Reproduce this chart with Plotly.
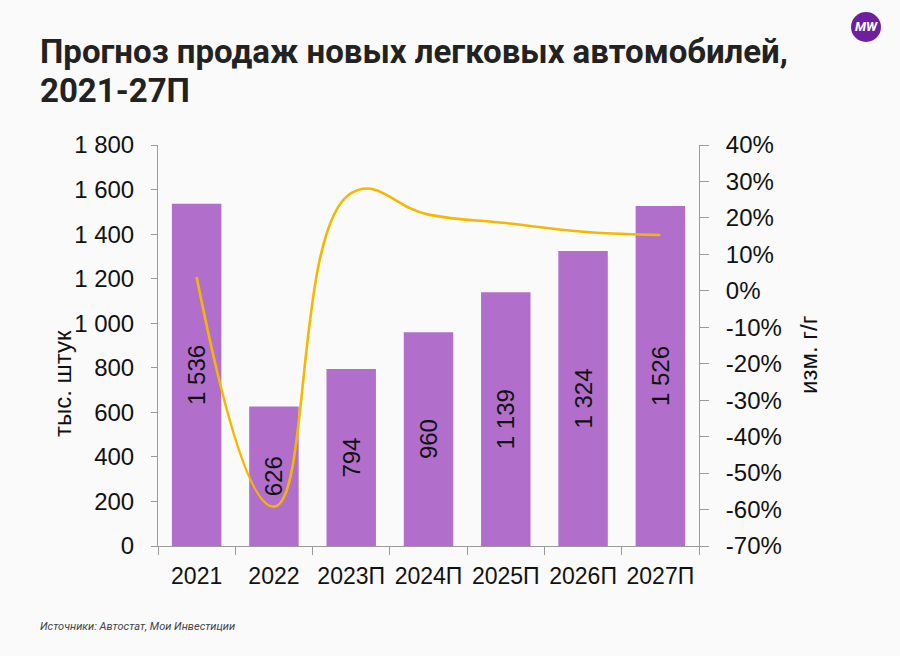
import plotly.graph_objects as go

categories = ["2021", "2022", "2023П", "2024П", "2025П", "2026П", "2027П"]
sales = [1536, 626, 794, 960, 1139, 1324, 1526]
yoy_pct = [3.8, -59.2, 26.8, 20.9, 18.6, 16.2, 15.3]

left_ticks = list(range(0, 1801, 200))
right_ticks = list(range(-70, 41, 10))
right_labels = [f"{v}%" for v in right_ticks]

BAR = "#B16FCB"
LINE = "#F4B800"
BG = "#FAFAFA"
AX = "#9A9A9A"
TICKFONT = dict(family="Liberation Sans, Arial", size=24, color="#111111")

L, R, T, B = 158, 699, 145, 546
PW, PH = R - L, B - T


def px(x):
    return (x - L) / PW


def py(y):
    return (B - y) / PH


fig = go.Figure()
fig.add_trace(go.Bar(
    x=categories, y=sales, marker_color=BAR, marker_line_width=0,
    text=[f"{v:,}".replace(",", " ") for v in sales],
    textposition="inside", insidetextanchor="middle", textangle=-90,
    textfont=dict(family="Liberation Sans, Arial", size=24, color="#111111"),
    constraintext="none", cliponaxis=False, yaxis="y", showlegend=False,
))
fig.add_trace(go.Scatter(
    x=categories, y=yoy_pct, mode="lines",
    line=dict(color=LINE, width=2.6, shape="spline", smoothing=1.3),
    yaxis="y2", showlegend=False,
))

fig.update_layout(
    width=900, height=656,
    paper_bgcolor=BG, plot_bgcolor=BG,
    margin=dict(l=L, r=900 - R, t=T, b=656 - B),
    separators=", ",
    bargap=0.36,
    xaxis=dict(
        showline=True, linecolor=AX, linewidth=1,
        ticks="outside", tickson="boundaries", ticklen=8, tickcolor=AX,
        tickfont=dict(family="Liberation Sans, Arial", size=23, color="#111111"),
        tickangle=0, showgrid=False, zeroline=False,
        ticklabelstandoff=9,
    ),
    yaxis=dict(
        range=[0, 1800], tickvals=left_ticks, tickformat=",d",
        showline=True, linecolor=AX, linewidth=1,
        ticks="outside", ticklen=6, tickcolor=AX,
        tickfont=TICKFONT, showgrid=False, zeroline=False,
        ticklabelstandoff=12,
    ),
    yaxis2=dict(
        range=[-70, 40], tickvals=right_ticks, ticktext=right_labels,
        overlaying="y", side="right",
        showline=True, linecolor=AX, linewidth=1,
        ticks="outside", ticklen=9, tickcolor=AX,
        tickfont=TICKFONT, showgrid=False, zeroline=False,
        ticklabelstandoff=12,
    ),
)

TITLEFONT = dict(family="Roboto, sans-serif", size=33, color="#222222", weight="bold")
ann = []
ann.append(dict(
    text="Прогноз продаж новых легковых автомобилей,",
    xref="paper", yref="paper", x=px(38), y=py(52),
    xanchor="left", yanchor="middle", align="left", showarrow=False,
    font=TITLEFONT,
))
ann.append(dict(
    text="2021-27П",
    xref="paper", yref="paper", x=px(38), y=py(91),
    xanchor="left", yanchor="middle", align="left", showarrow=False,
    font=TITLEFONT,
))
ann.append(dict(
    text="тыс. штук", textangle=-90,
    xref="paper", yref="paper", x=px(62), y=py(384),
    xanchor="center", yanchor="middle", showarrow=False,
    font=dict(family="Liberation Sans, Arial", size=24, color="#111111"),
))
ann.append(dict(
    text="изм. г/г", textangle=-90,
    xref="paper", yref="paper", x=px(808), y=py(355),
    xanchor="center", yanchor="middle", showarrow=False,
    font=dict(family="Liberation Sans, Arial", size=24, color="#111111"),
))
ann.append(dict(
    text="<i>Источники: Автостат, Мои Инвестиции</i>",
    xref="paper", yref="paper", x=px(38), y=py(626),
    xanchor="left", yanchor="middle", showarrow=False,
    font=dict(family="Roboto, sans-serif", size=11, color="#444444"),
))
ann.append(dict(
    text="<i><b>MW</b></i>",
    xref="paper", yref="paper", x=px(866), y=py(27),
    xanchor="center", yanchor="middle", showarrow=False,
    font=dict(family="Roboto, sans-serif", size=13, color="white"),
))
fig.update_layout(annotations=ann)
fig.add_shape(
    type="circle", xref="paper", yref="paper",
    x0=px(851), x1=px(881), y0=py(12), y1=py(42),
    fillcolor="#6E1FA0", line_width=0, layer="below",
)

fig.write_html(
    "out.html",
    config={"displayModeBar": False},
    post_script="document.body.style.margin='0';document.body.style.background='#FAFAFA';",
)
